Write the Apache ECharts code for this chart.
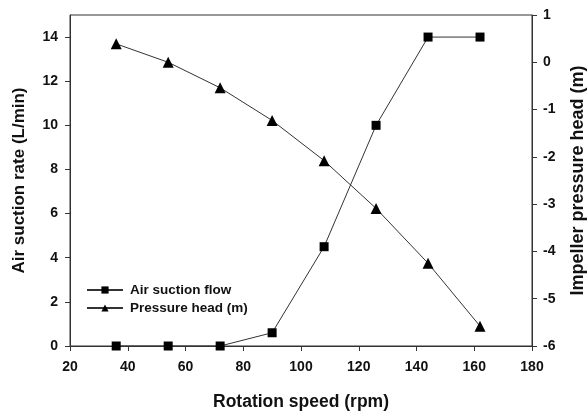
<!DOCTYPE html>
<html>
<head>
<meta charset="utf-8">
<script src="https://cdn.jsdelivr.net/npm/echarts@6/dist/echarts.min.js"></script>
<style>
  html, body { margin: 0; padding: 0; background: #fff; }
  #chart { width: 588px; height: 412px; }
</style>
</head>
<body>
<div id="chart"></div>
<script>
// rotation speed (rpm)
const speed = [36, 54, 72, 90, 108, 126, 144, 162]
// air suction flow (L/min), left axis
const airFlow = [0, 0, 0, 0.6, 4.5, 10, 14, 14]
// impeller pressure head (m), right axis
const pressureHead = [0.39, 0.0, -0.54, -1.23, -2.08, -3.09, -4.25, -5.58]

const font = 'Liberation Sans, Arial, sans-serif'
const ink = '#111'

function pairs(xs, ys) {
  return xs.map((x, i) => [x, ys[i]])
}

const chart = echarts.init(document.getElementById('chart'))

chart.setOption({
  animation: false,
  grid: {
    left: 70, right: 56, top: 15, bottom: 66,
    outerBoundsMode: 'none',
    show: true, borderColor: '#333', borderWidth: 1
  },
  legend: {
    left: 86, top: 283, padding: 0,
    orient: 'vertical',
    itemWidth: 36, itemHeight: 9, itemGap: 4,
    textStyle: { fontFamily: font, fontWeight: 'bold', fontSize: 13.5, color: ink, padding: [0, 0, 0, 2] },
    data: ['Air suction flow', 'Pressure head (m)']
  },
  xAxis: {
    type: 'value', min: 20, max: 180, interval: 20,
    name: 'Rotation speed (rpm)', nameLocation: 'middle', nameGap: 47,
    nameTextStyle: { fontFamily: font, fontWeight: 'bold', fontSize: 17.5, color: ink },
    axisLine: { lineStyle: { color: '#333' } },
    axisTick: { length: 5, lineStyle: { color: '#333' } },
    axisLabel: { fontFamily: font, fontWeight: 'bold', fontSize: 14, color: ink, margin: 14 },
    splitLine: { show: false }
  },
  yAxis: [{
    type: 'value', min: 0, max: 15, interval: 2,
    name: 'Air suction rate (L/min)', nameLocation: 'middle', nameGap: 42,
    nameTextStyle: { fontFamily: font, fontWeight: 'bold', fontSize: 17, color: ink },
    axisLine: { show: true, lineStyle: { color: '#333' } },
    axisTick: { show: true, length: 5, lineStyle: { color: '#333' } },
    axisLabel: { fontFamily: font, fontWeight: 'bold', fontSize: 14, color: ink, showMaxLabel: false, margin: 12 },
    splitLine: { show: false }
  }, {
    type: 'value', min: -6, max: 1, interval: 1,
    name: 'Impeller pressure head (m)', nameLocation: 'middle', nameGap: 37,
    nameRotate: 90,
    nameTextStyle: { fontFamily: font, fontWeight: 'bold', fontSize: 18, color: ink },
    axisLine: { show: true, lineStyle: { color: '#333' } },
    axisTick: { show: true, length: 5, lineStyle: { color: '#333' } },
    axisLabel: { fontFamily: font, fontWeight: 'bold', fontSize: 14, color: ink, margin: 11 },
    splitLine: { show: false }
  }],
  series: [{
    name: 'Air suction flow',
    type: 'line',
    yAxisIndex: 0,
    data: pairs(speed, airFlow),
    symbol: 'rect', symbolSize: 9,
    itemStyle: { color: '#000' },
    lineStyle: { color: '#333', width: 1 }
  }, {
    name: 'Pressure head (m)',
    type: 'line',
    yAxisIndex: 1,
    data: pairs(speed, pressureHead),
    symbol: 'triangle', symbolSize: 11,
    itemStyle: { color: '#000' },
    lineStyle: { color: '#333', width: 1 }
  }]
})
</script>
</body>
</html>
